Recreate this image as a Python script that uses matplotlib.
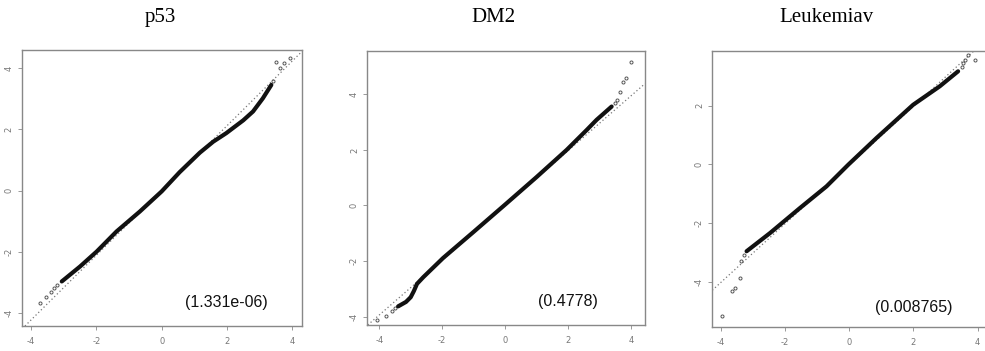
import numpy as np
import matplotlib
matplotlib.use('Agg')
import matplotlib.pyplot as plt

# panel titles and the p-values printed inside each panel
titles = ['p53', 'DM2', 'Leukemiav']
pvalues = ['(1.331e-06)', '(0.4778)', '(0.008765)']

# dense part of each Q-Q curve (theoretical quantile, sample quantile)
p53_x = [-3.06, -2.5, -1.99, -1.38, -0.67, 0.0, 0.55, 1.17, 1.58, 1.98, 2.5, 2.8, 3.1, 3.36]
p53_y = [-2.98, -2.49, -2.0, -1.34, -0.69, -0.03, 0.60, 1.24, 1.60, 1.88, 2.3, 2.59, 3.02, 3.46]
dm2_x = [-3.40, -3.15, -3.0, -2.9, -2.8, -2.6, -1.97, -1.0, 0.0, 1.0, 1.96, 2.6, 2.91, 3.39]
dm2_y = [-3.63, -3.47, -3.3, -3.08, -2.82, -2.58, -1.89, -0.95, 0.03, 1.02, 2.0, 2.72, 3.08, 3.56]
leu_x = [-3.2, -2.47, -1.54, -0.71, -0.03, 0.85, 1.99, 2.82, 3.39]
leu_y = [-2.96, -2.34, -1.49, -0.75, -0.01, 0.9, 2.03, 2.66, 3.17]

# sparse tail points
p53_tx = [-3.72, -3.55, -3.4, -3.3, -3.2, 3.42, 3.51, 3.62, 3.75, 3.92]
p53_ty = [-3.69, -3.5, -3.33, -3.2, -3.1, 3.6, 4.22, 4.0, 4.18, 4.33]
dm2_tx = [-4.08, -3.77, -3.6, -3.5, 3.5, 3.55, 3.65, 3.76, 3.85, 4.02]
dm2_ty = [-4.11, -3.99, -3.8, -3.7, 3.7, 3.8, 4.1, 4.46, 4.6, 5.18]
leu_tx = [-3.98, -3.67, -3.55, -3.41, -3.36, -3.28, 3.5, 3.55, 3.62, 3.70, 3.91]
leu_ty = [-5.18, -4.33, -4.2, -3.87, -3.3, -3.1, 3.3, 3.45, 3.55, 3.74, 3.57]

# reference lines (slope, intercept)
ref_lines = [(1.06, 0.0), (0.985, 0.0), (1.0, -0.02)]

curves = [(p53_x, p53_y), (dm2_x, dm2_y), (leu_x, leu_y)]
tails = [(p53_tx, p53_ty), (dm2_tx, dm2_ty), (leu_tx, leu_ty)]

xlims = [(-4.28, 4.3), (-4.38, 4.45), (-4.27, 4.29)]
ylims = [(-4.44, 4.6), (-4.3, 5.57), (-5.54, 3.87)]
yticks = [[-4, -2, 0, 2, 4], [-4, -2, 0, 2, 4], [-4, -2, 0, 2]]
xticks = [-4, -2, 0, 2, 4]

positions = [[0.0223, 0.0712, 0.2843, 0.786],
             [0.3729, 0.0741, 0.2819, 0.7815],
             [0.7231, 0.0684, 0.2789, 0.787]]
title_x = [0.1625, 0.5005, 0.8386]
text_pos = [(0.729, 0.087), (0.721, 0.084), (0.732, 0.069)]

fig = plt.figure(figsize=(9.85, 3.51), dpi=100)

for i in range(3):
    ax = fig.add_axes(positions[i])
    slope, icpt = ref_lines[i]
    ax.axline((0, icpt), slope=slope, color='#777777', lw=0.9, ls=(0, (1, 2)), zorder=1)
    ax.plot(curves[i][0], curves[i][1], color='#111111', lw=3.0,
            solid_capstyle='round', solid_joinstyle='round', zorder=3)
    ax.plot(tails[i][0], tails[i][1], 'o', ms=2.2, mfc='none', mec='#555555',
            mew=0.7, zorder=2)
    ax.set_xlim(xlims[i])
    ax.set_ylim(ylims[i])
    ax.set_xticks(xticks)
    ax.set_yticks(yticks[i])
    ax.set_xticklabels([str(t) for t in xticks], fontsize=6, color='#777777')
    ax.set_yticklabels([str(t) for t in yticks[i]], fontsize=6, color='#777777',
                       rotation=90, va='center')
    ax.tick_params(length=3, width=0.7, color='#999999')
    ax.tick_params(axis='x', pad=5)
    ax.tick_params(axis='y', pad=3)
    for s in ax.spines.values():
        s.set_color('#888888')
        s.set_linewidth(1.0)
    ax.text(text_pos[i][0], text_pos[i][1], pvalues[i], transform=ax.transAxes,
            ha='center', va='center', fontsize=11.5, family='Liberation Sans',
            color='#111111')
    fig.text(title_x[i], 0.949, titles[i], ha='center', va='center',
             fontsize=15, family='Liberation Serif')

fig.savefig('out.png', dpi=100)
